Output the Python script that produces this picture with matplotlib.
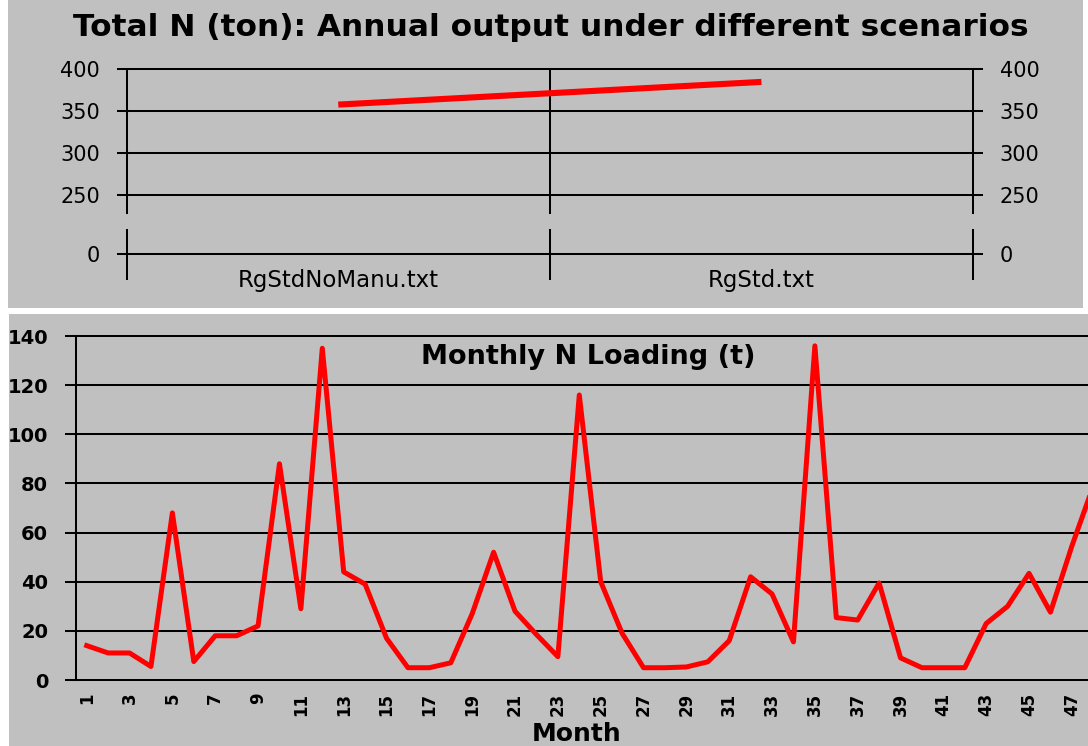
import matplotlib
matplotlib.use("Agg")
import matplotlib.pyplot as plt
from matplotlib.patches import Rectangle

# ---------------- data ----------------
scenarios = ["RgStdNoManu.txt", "RgStd.txt"]
annual_total_n = [358, 385]
upper_ticks = [250, 300, 350, 400]
lower_ticks = [0]

months = list(range(1, 49))
monthly_n = [14, 11, 11, 5.5, 68, 7.5, 18, 18, 22, 88,
             29, 135, 44, 39, 17, 5, 5, 7, 27, 52,
             28, 18.5, 9.5, 116, 40, 19, 5, 5, 5.3, 7.4,
             16, 42, 35, 15.5, 136, 25.4, 24.4, 39.5, 9, 5,
             5, 5, 23, 30, 43.4, 27.6, 54.5, 79]
month_ticks = months[::2]
y_ticks_bottom = list(range(0, 141, 20))

W, H = 1088, 746
GREY = "#c0c0c0"

fig = plt.figure(figsize=(W / 100, H / 100), dpi=100)
fig.patch.set_facecolor("white")

def fx(px):
    return px / W

def fy(py):
    return 1 - py / H

# panel backgrounds
fig.add_artist(Rectangle((fx(8), fy(308)), fx(1083) - fx(8), fy(0) - fy(308),
                         transform=fig.transFigure, facecolor=GREY, edgecolor="none", zorder=-10))
fig.add_artist(Rectangle((fx(9), fy(746)), fx(1088) - fx(9), fy(314) - fy(746),
                         transform=fig.transFigure, facecolor=GREY, edgecolor="none", zorder=-10))

LW_GRID = 1.45
TICK_LEN = 7.2
FS_TOP = 15

# ---------------- top chart: upper segment ----------------
x0, x1 = 126.7, 973
axU = fig.add_axes([fx(x0), fy(213), fx(x1) - fx(x0), fy(69.3) - fy(213)])
axU.set_facecolor("none")
axU.set_xlim(0, 2)
axU.set_ylim(229, 400)
for s in axU.spines.values():
    s.set_visible(False)
axU.set_yticks(upper_ticks)
axU.tick_params(axis="y", which="both", direction="out", length=TICK_LEN, width=LW_GRID,
                left=True, right=True, labelleft=True, labelright=True,
                labelsize=FS_TOP, pad=12, colors="black")
axU.set_xticks([])
for v in upper_ticks:
    axU.axhline(v, color="black", lw=LW_GRID, clip_on=False, zorder=1)
for xv in range(len(scenarios) + 1):
    axU.axvline(xv, color="black", lw=LW_GRID, clip_on=False, zorder=1)
cat_pos = [i + 0.5 for i in range(len(scenarios))]
axU.plot(cat_pos, annual_total_n, color="red", lw=4.4, solid_capstyle="butt", zorder=3)

# ---------------- top chart: lower (broken) segment ----------------
axL = fig.add_axes([fx(x0), fy(278.7), fx(x1) - fx(x0), fy(230) - fy(278.7)])
axL.set_facecolor("none")
axL.set_xlim(0, 2)
axL.set_ylim(-1, 1)
for s in axL.spines.values():
    s.set_visible(False)
axL.set_yticks(lower_ticks)
axL.tick_params(axis="y", direction="out", length=TICK_LEN, width=LW_GRID,
                left=True, right=True, labelleft=True, labelright=True,
                labelsize=FS_TOP, pad=12)
for v in lower_ticks:
    axL.axhline(v, color="black", lw=LW_GRID, clip_on=False, zorder=1)
for xv in range(len(scenarios) + 1):
    axL.axvline(xv, color="black", lw=LW_GRID, clip_on=False, zorder=1)
axL.set_xticks(cat_pos)
axL.set_xticklabels(scenarios, fontsize=16.5)
axL.tick_params(axis="x", length=0, pad=-7)

fig.text(fx(551), fy(28), "Total N (ton): Annual output under different scenarios",
         ha="center", va="center", fontsize=22.5, fontweight="bold")

# ---------------- bottom chart ----------------
bx0, bx1 = 76, 1104
ax = fig.add_axes([fx(bx0), fy(680), fx(bx1) - fx(bx0), fy(336) - fy(680)])
ax.set_facecolor("none")
ax.set_xlim(0.5, 48.5)
ax.set_ylim(0, 140)
for k in ["top", "right", "bottom"]:
    ax.spines[k].set_visible(False)
ax.spines["left"].set_linewidth(LW_GRID)
ax.spines["left"].set_color("black")
for v in y_ticks_bottom:
    ax.axhline(v, color="black", lw=LW_GRID, clip_on=False, zorder=1)
ax.plot(months, monthly_n, color="red", lw=3.6, zorder=3, clip_on=False)
ax.set_yticks(y_ticks_bottom)
ax.set_yticklabels([str(v) for v in y_ticks_bottom], fontsize=14, fontweight="bold")
ax.tick_params(axis="y", direction="out", length=8, width=LW_GRID, pad=12)
ax.set_xticks(month_ticks)
ax.set_xticklabels([str(m) for m in month_ticks], rotation=90, fontsize=12,
                   fontweight="bold")
ax.tick_params(axis="x", length=0, pad=9)
ax.set_xlabel("Month", fontsize=18, fontweight="bold")
ax.xaxis.set_label_coords((577 - bx0) / (bx1 - bx0), (680 - 722) / 344)
ax.text((588 - bx0) / (bx1 - bx0), (680 - 357) / 344, "Monthly N Loading (t)",
        transform=ax.transAxes, ha="center", va="center", fontsize=19.5, fontweight="bold")

fig.savefig("out.png", dpi=100, facecolor="white")
